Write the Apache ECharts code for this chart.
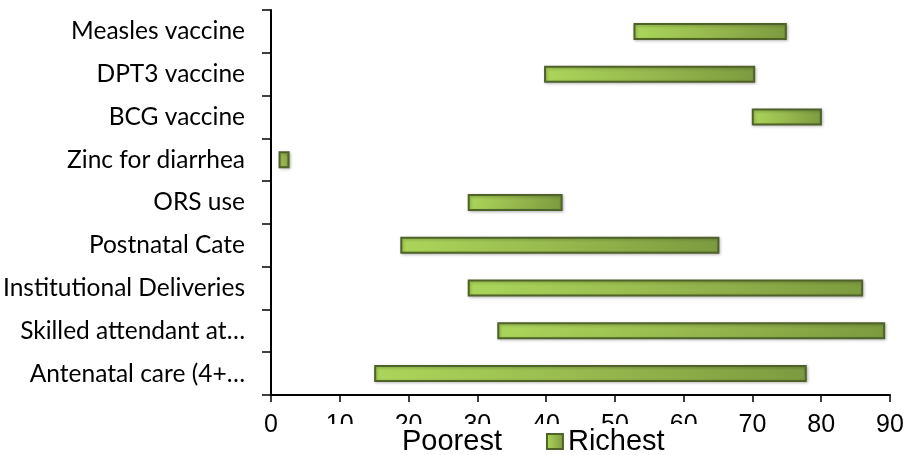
<!DOCTYPE html>
<html>
<head>
<meta charset="utf-8">
<script src="https://cdn.jsdelivr.net/npm/echarts@6/dist/echarts.min.js"></script>
<style>
html,body{margin:0;padding:0;background:#fff;}
#chart{width:906px;height:455px;}
</style>
</head>
<body>
<div id="chart"></div>
<script>
// Categories listed bottom to top
const categories = [
  'Antenatal care (4+\u2026',
  'Skilled attendant at\u2026',
  'Institutional Deliveries',
  'Postnatal Cate',
  'ORS use',
  'Zinc for diarrhea',
  'BCG vaccine',
  'DPT3 vaccine',
  'Measles vaccine'
];
const poorest = [15.0, 32.9, 28.6, 18.8, 28.6, 1.1, 69.9, 39.7, 52.7];
const richest = [77.9, 89.3, 86.1, 65.2, 42.4, 2.7, 80.1, 70.4, 75.0];
const xTicks = { min: 0, max: 90, interval: 10 };

const rangeSpan = richest.map((r, i) => +(r - poorest[i]).toFixed(2));

const chart = echarts.init(document.getElementById('chart'), null, { renderer: 'canvas' });
const barGrad = new echarts.graphic.LinearGradient(0, 0, 1, 0, [
  { offset: 0, color: '#abd65a' },
  { offset: 0.5, color: '#97b84e' },
  { offset: 1, color: '#7c9b3f' }
]);
chart.setOption({
  animation: false,
  backgroundColor: '#fff',
  grid: { left: 271, right: 16, top: 10, bottom: 60, containLabel: false, outerBoundsMode: 'none' },
  legend: {
    data: ['Poorest', 'Richest'],
    left: 321,
    top: 424,
    padding: [3, 40, 6, 60],
    backgroundColor: '#fff',
    icon: 'rect',
    itemWidth: 16,
    itemHeight: 15,
    itemGap: 44,
    textStyle: { fontFamily: 'Liberation Sans', fontSize: 29, color: '#000' },
    z: 10
  },
  xAxis: {
    type: 'value',
    min: xTicks.min,
    max: xTicks.max,
    interval: xTicks.interval,
    splitLine: { show: false },
    axisLine: { show: true, lineStyle: { color: '#000', width: 2 } },
    axisTick: { show: true, length: 7, lineStyle: { color: '#000', width: 1.5 } },
    axisLabel: { fontFamily: 'Liberation Sans', fontSize: 25, color: '#000', margin: 18 }
  },
  yAxis: {
    type: 'category',
    data: categories,
    axisLine: { show: true, lineStyle: { color: '#000', width: 2 } },
    axisTick: { show: true, length: 9, lineStyle: { color: '#000', width: 1.5 } },
    axisLabel: { fontFamily: 'Lato', fontSize: 24.5, color: '#000', margin: 26 },
    splitLine: { show: false }
  },
  series: [
    {
      name: 'Poorest',
      type: 'bar',
      stack: 'r',
      data: poorest,
      barWidth: 17,
      itemStyle: { color: 'rgba(0,0,0,0)', borderWidth: 0 },
      emphasis: { disabled: true }
    },
    {
      name: 'Richest',
      type: 'bar',
      stack: 'r',
      data: rangeSpan,
      barWidth: 17,
      itemStyle: {
        color: barGrad,
        borderColor: '#4f6228',
        borderWidth: 2,
        shadowColor: 'rgba(0,0,0,0.25)',
        shadowBlur: 3,
        shadowOffsetX: 1,
        shadowOffsetY: 1
      }
    }
  ]
});
</script>
</body>
</html>
